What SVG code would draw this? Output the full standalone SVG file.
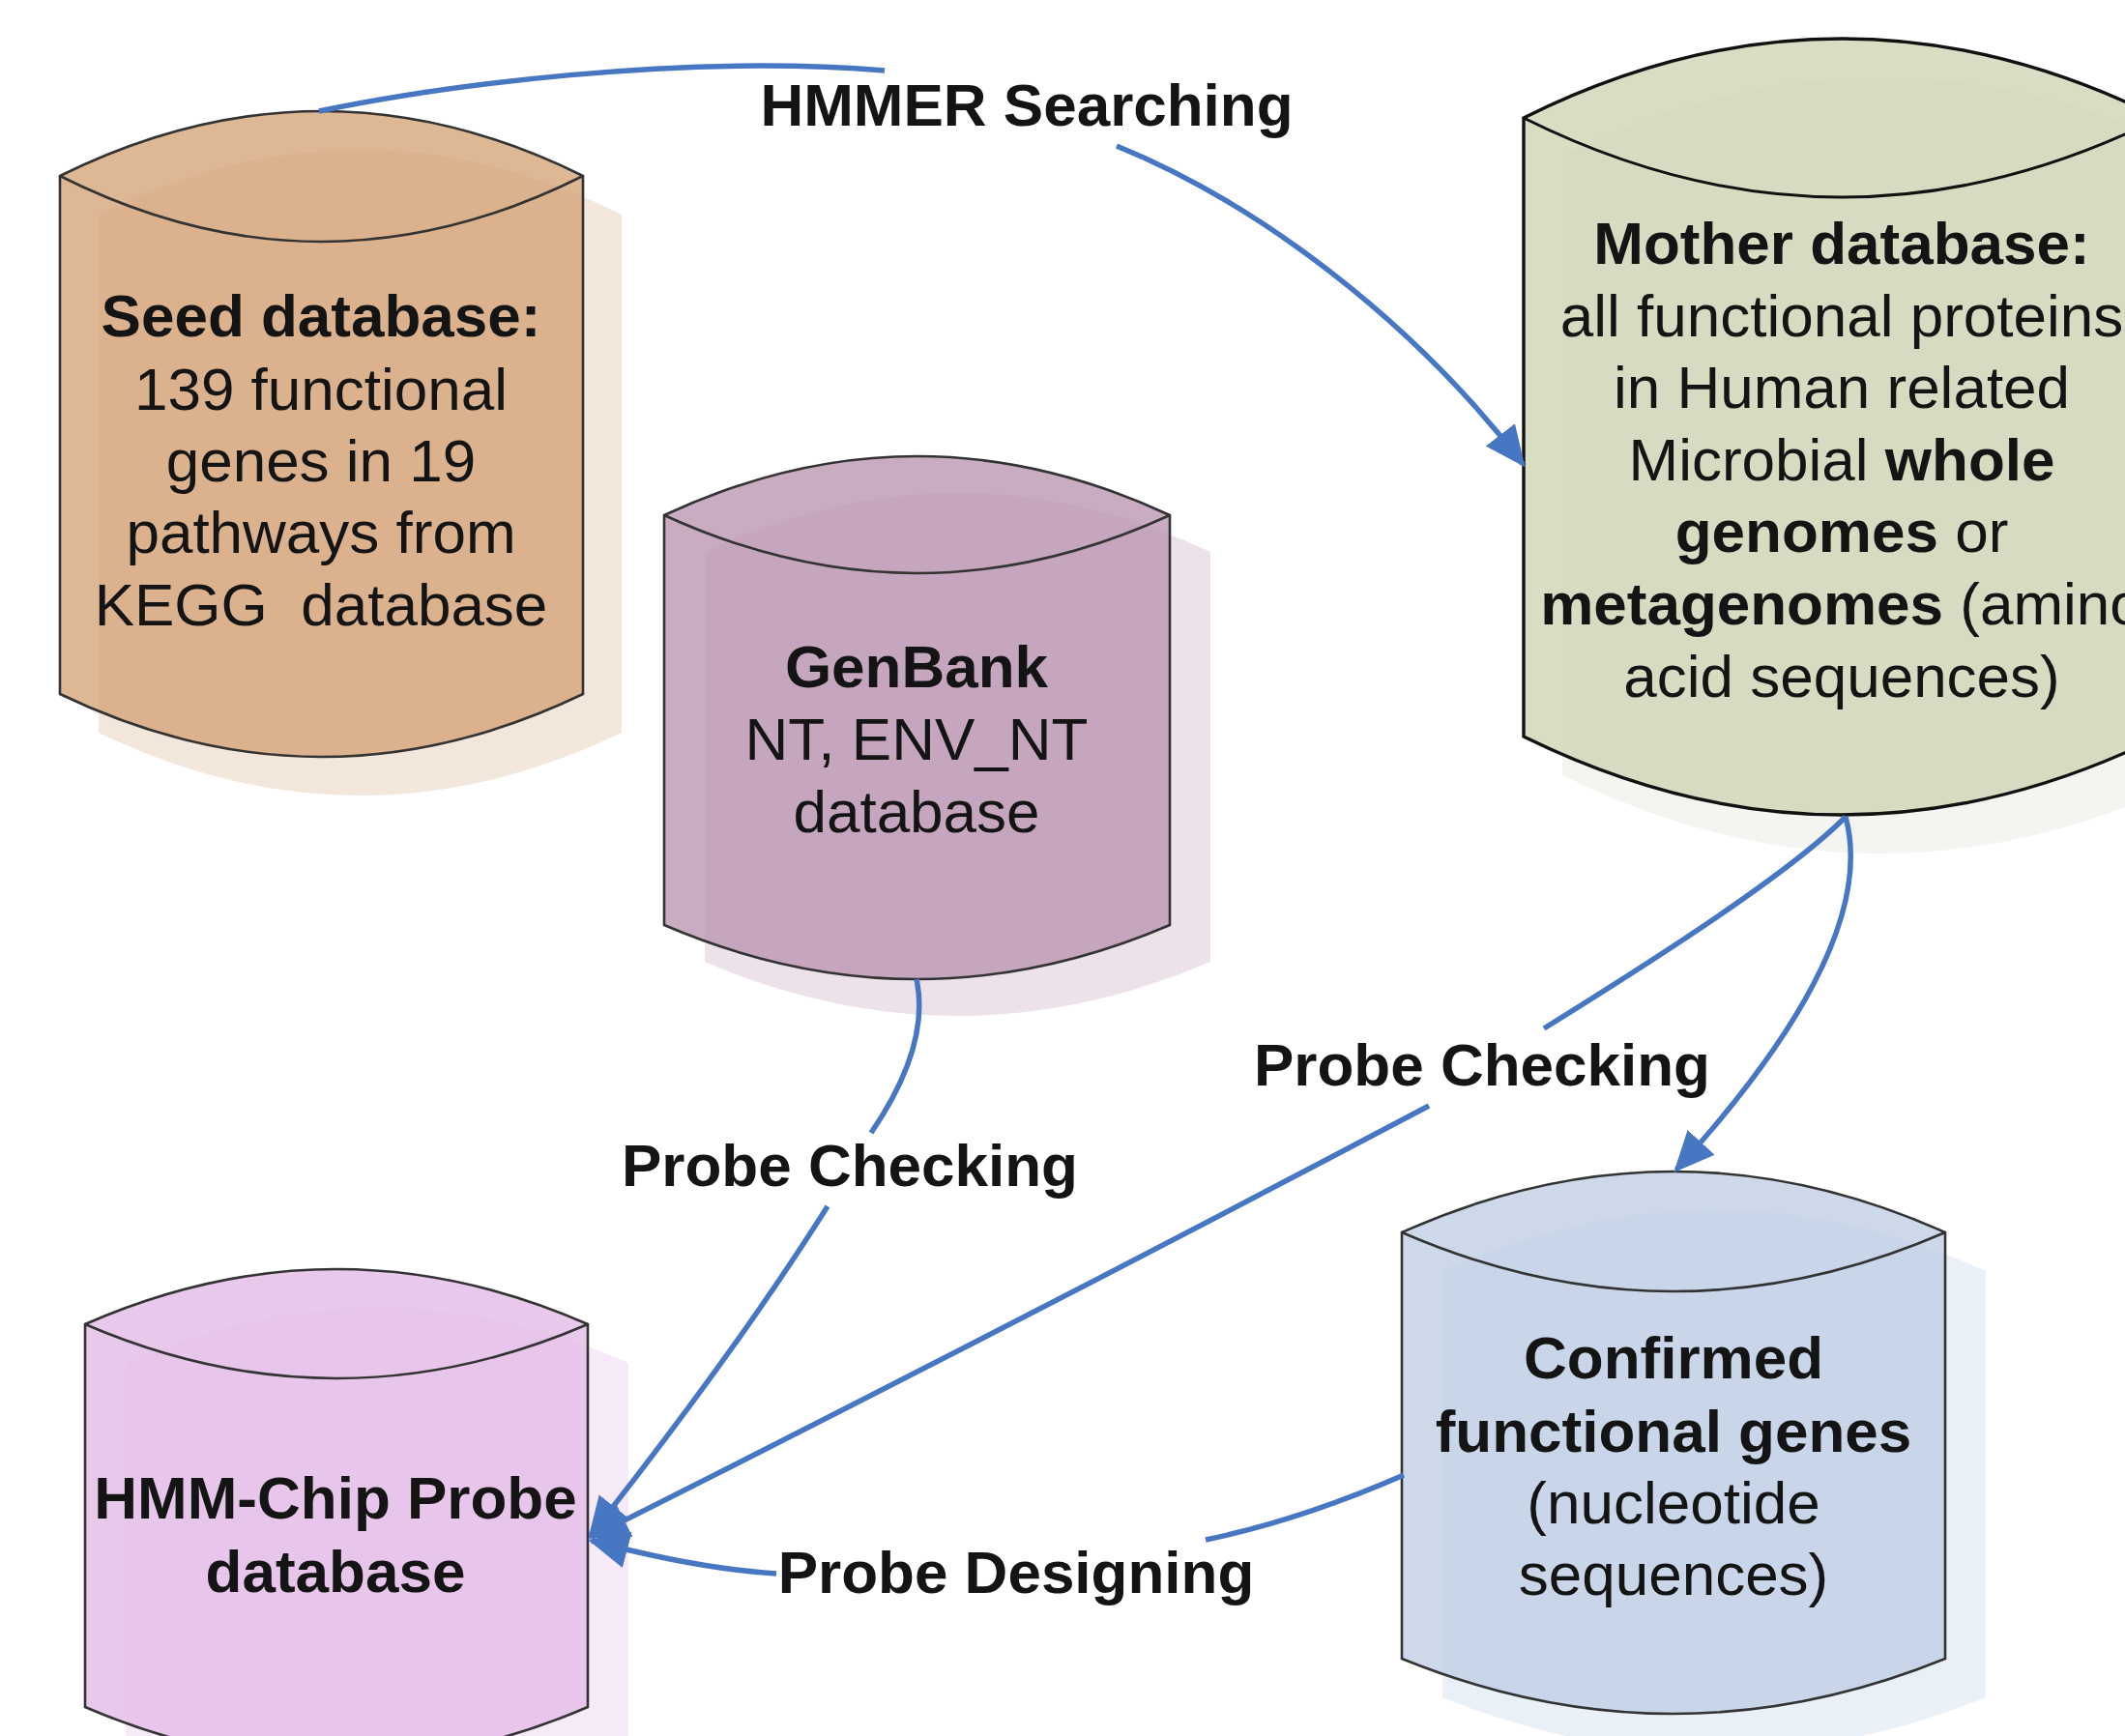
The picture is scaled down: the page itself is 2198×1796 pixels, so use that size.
<svg xmlns="http://www.w3.org/2000/svg" width="2198" height="1796" viewBox="0 0 2198 1796">
<style>
.body{stroke:#333;stroke-width:2.6;fill-opacity:0.8}
.front{fill:none;stroke:#333;stroke-width:2.6}
.t{font-family:"Liberation Sans",Arial,Helvetica,sans-serif;font-size:62px;fill:#141414;text-anchor:middle}
.b{font-weight:bold}
.conn{fill:none;stroke:#4777C2;stroke-width:5.5}
</style>
<defs>
<marker id="ah" viewBox="0 0 42 40" refX="38" refY="20" markerWidth="42" markerHeight="40" markerUnits="userSpaceOnUse" orient="auto">
<path d="M0,1 L42,20 L0,39 Z" fill="#4777C2"/>
</marker>
</defs>
<rect width="2198" height="1796" fill="#fff"/>

<g id="seed">
<path transform="translate(40,40)" d="M62,182 Q332.5,48 603,182 L603,718 Q332.5,848 62,718 Z" fill="#F3E6DA"/>
<path class="body" d="M62,182 Q332.5,48 603,182 L603,718 Q332.5,848 62,718 Z" fill="#D6A57B"/>
<path class="front" d="M62,182 Q332.5,318 603,182"/>
<text class="t b" x="332" y="348">Seed database:</text>
<text class="t" x="332" y="424">139 functional</text>
<text class="t" x="332" y="498">genes in 19</text>
<text class="t" x="332" y="572">pathways from</text>
<text class="t" x="332" y="647" style="white-space:pre">KEGG  database</text>
</g>

<g id="genbank">
<path transform="translate(42,38)" d="M687,533 Q948.5,411 1210,533 L1210,957 Q948.5,1069 687,957 Z" fill="#EDE1EA"/>
<path class="body" d="M687,533 Q948.5,411 1210,533 L1210,957 Q948.5,1069 687,957 Z" fill="#BC96B3"/>
<path class="front" d="M687,533 Q948.5,653 1210,533"/>
<text class="t b" x="948" y="711">GenBank</text>
<text class="t" x="948" y="786">NT, ENV_NT</text>
<text class="t" x="948" y="861">database</text>
</g>

<g id="mother">
<path transform="translate(40,40)" d="M1576,122 Q1905,-42 2234,122 L2234,762 Q1905,924 1576,762 Z" fill="#F4F4F0"/>
<path class="body" d="M1576,122 Q1905,-42 2234,122 L2234,762 Q1905,924 1576,762 Z" fill="#CFD4B5" style="stroke:#111;stroke-width:3.4"/>
<path class="front" d="M1576,122 Q1905,286 2234,122" style="stroke:#111;stroke-width:3"/>
<text class="t b" x="1905" y="273">Mother database:</text>
<text class="t" x="1905" y="348">all functional proteins</text>
<text class="t" x="1905" y="422">in Human related</text>
<text class="t" x="1905" y="497">Microbial <tspan class="b">whole</tspan></text>
<text class="t" x="1905" y="571"><tspan class="b">genomes</tspan> or</text>
<text class="t" x="1905" y="646"><tspan class="b">metagenomes</tspan> (amino</text>
<text class="t" x="1905" y="721">acid sequences)</text>
</g>

<g id="confirmed">
<path transform="translate(42,40)" d="M1450,1275 Q1731,1149 2012,1275 L2012,1716 Q1731,1830 1450,1716 Z" fill="#EAF0F8"/>
<path class="body" d="M1450,1275 Q1731,1149 2012,1275 L2012,1716 Q1731,1830 1450,1716 Z" fill="#C0CEE3"/>
<path class="front" d="M1450,1275 Q1731,1397 2012,1275"/>
<text class="t b" x="1731" y="1426">Confirmed</text>
<text class="t b" x="1731" y="1502">functional genes</text>
<text class="t" x="1731" y="1576">(nucleotide</text>
<text class="t" x="1731" y="1650">sequences)</text>
</g>

<g id="hmmchip">
<path transform="translate(42,40)" d="M88,1370 Q348,1256 608,1370 L608,1766 Q348,1878 88,1766 Z" fill="#F7EAF8"/>
<path class="body" d="M88,1370 Q348,1256 608,1370 L608,1766 Q348,1878 88,1766 Z" fill="#E3BCE6"/>
<path class="front" d="M88,1370 Q348,1482 608,1370"/>
<text class="t b" x="347" y="1571">HMM-Chip Probe</text>
<text class="t b" x="347" y="1647">database</text>
</g>

<g id="connectors">
<path class="conn" d="M330,115 C450,90 700,55 915,73"/>
<path class="conn" d="M1155,151 C1300,210 1460,330 1575,480" marker-end="url(#ah)"/>
<path class="conn" d="M948,1013 C958,1060 940,1115 901,1172"/>
<path class="conn" d="M856,1248 Q760,1400 611,1588" marker-end="url(#ah)"/>
<path class="conn" d="M1909,845 C1850,905 1700,1000 1597,1064"/>
<path class="conn" d="M1478,1144 Q1050,1370 612,1590" marker-end="url(#ah)"/>
<path class="conn" d="M1909,845 C1932,930 1880,1050 1734,1210" marker-end="url(#ah)"/>
<path class="conn" d="M1452,1526 C1390,1553 1320,1578 1247,1593"/>
<path class="conn" d="M803,1628 C740,1624 680,1612 612,1594" marker-end="url(#ah)"/>
<text class="t b" x="1062" y="130">HMMER Searching</text>
<text class="t b" x="1533" y="1123">Probe Checking</text>
<text class="t b" x="879" y="1227">Probe Checking</text>
<text class="t b" x="1051" y="1648">Probe Designing</text>
</g>
</svg>
